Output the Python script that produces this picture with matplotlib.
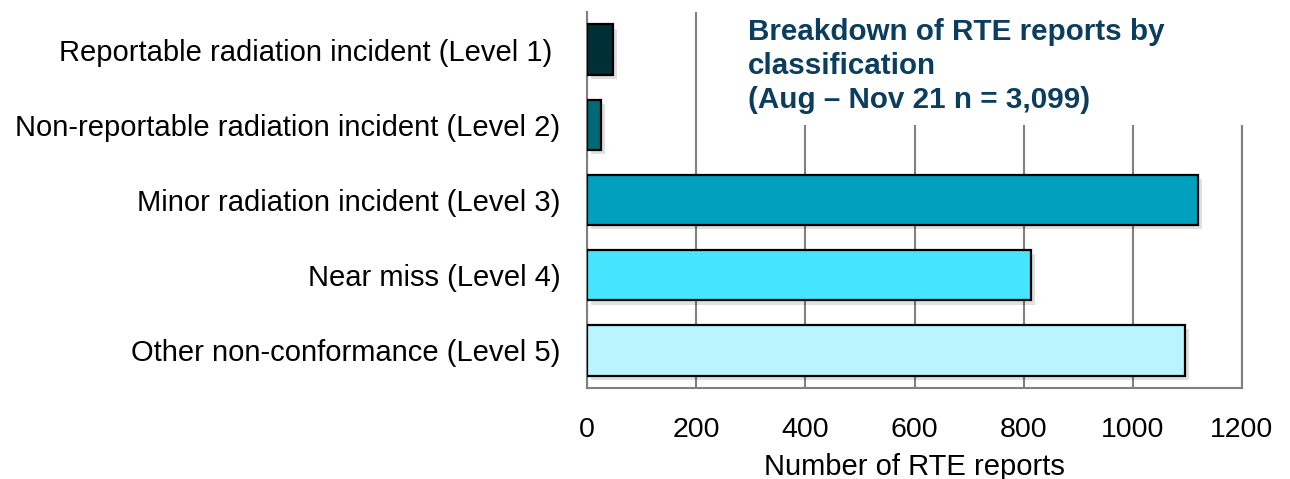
"""
Breakdown of RTE reports by classification, horizontal bar chart.
Saves out.png.
"""

import matplotlib.pyplot as plt
import matplotlib.patheffects as pe
from matplotlib.patches import Rectangle


CATEGORIES = [
    "Reportable radiation incident (Level 1) ",
    "Non-reportable radiation incident (Level 2)",
    "Minor radiation incident (Level 3)",
    "Near miss (Level 4)",
    "Other non-conformance (Level 5)",
]
REPORTS = [47, 25, 1119, 813, 1095]
BAR_COLOURS = ["#003035", "#006877", "#00A0BE", "#45E4FF", "#B9F4FF"]
X_TICKS = [0, 200, 400, 600, 800, 1000, 1200]

TITLE = "Breakdown of RTE reports by\nclassification\n(Aug \u2013 Nov 21 n = 3,099)"
TITLE_COLOUR = "#0B3D5E"
GRID_COLOUR = "#808080"


def main():
    plt.rcParams["font.family"] = ["Liberation Sans", "DejaVu Sans"]

    fig = plt.figure(figsize=(12.9, 4.79), dpi=100)
    ax = fig.add_axes([587 / 1290, 1 - 388 / 479, 655 / 1290, 376 / 479])

    y = list(range(len(CATEGORIES)))
    bars = ax.barh(y, REPORTS, height=0.67, color=BAR_COLOURS,
                   edgecolor="black", linewidth=1.6, zorder=3)
    for b in bars:
        b.set_path_effects([
            pe.SimplePatchShadow(offset=(3, -3), alpha=0.12, shadow_rgbFace="black"),
            pe.Normal(),
        ])

    ax.set_ylim(len(CATEGORIES) - 0.5, -0.5)
    ax.set_yticks(y)
    ax.set_yticklabels(CATEGORIES, fontsize=21)
    ax.set_xlim(0, 1200)
    ax.set_xticks(X_TICKS)
    ax.set_xticklabels([str(t) for t in X_TICKS], fontsize=20.5)
    ax.tick_params(axis="y", length=0, pad=19)
    ax.tick_params(axis="x", length=0, pad=21)
    ax.set_xlabel("Number of RTE reports", fontsize=21, labelpad=7)

    ax.grid(axis="x", color=GRID_COLOUR, linewidth=1.5, zorder=0)
    ax.set_axisbelow(True)
    for side in ["left", "bottom", "right"]:
        ax.spines[side].set_color(GRID_COLOUR)
        ax.spines[side].set_linewidth(1.5)
    ax.spines["top"].set_visible(False)

    # white box behind the title hides the grid underneath
    fig.patches.append(Rectangle((705 / 1290, 1 - 125 / 479), 550 / 1290, 125 / 479,
                                 transform=fig.transFigure, facecolor="white",
                                 edgecolor="none", zorder=5))
    fig.text(748 / 1290, 1 - 18 / 479, TITLE, fontsize=21.3, fontweight="bold",
             color=TITLE_COLOUR, ha="left", va="top", linespacing=1.28, zorder=6)

    fig.savefig("out.png", dpi=100)


if __name__ == "__main__":
    main()
